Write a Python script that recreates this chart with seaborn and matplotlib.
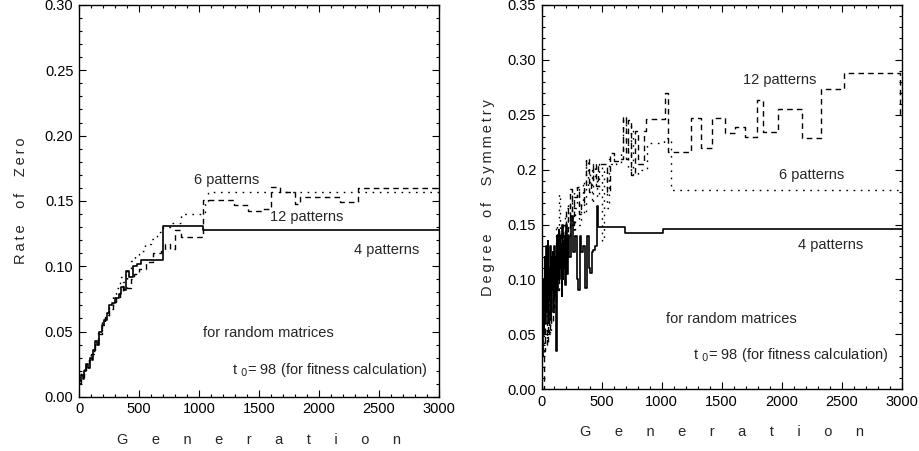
import numpy as np
import pandas as pd
import matplotlib
matplotlib.use('Agg')
import matplotlib.pyplot as plt
import seaborn as sns
from matplotlib.ticker import MultipleLocator, FixedLocator, FixedFormatter

sns.set_theme(style='ticks')
plt.rcParams['font.family'] = ['Liberation Sans', 'DejaVu Sans']

# ---- left panel: rate of zero ----
zero_4_x = [0, 15, 30, 45, 60, 75, 90, 105, 120, 135, 150, 170, 190, 210, 230, 250, 275, 300,
            330, 350, 375, 395, 420, 450, 480, 520, 700, 1030, 3000]
zero_4_y = [0.012, 0.017, 0.014, 0.020, 0.025, 0.022, 0.030, 0.028, 0.036, 0.043, 0.040, 0.050,
            0.055, 0.059, 0.064, 0.070, 0.072, 0.076, 0.079, 0.084, 0.082, 0.096, 0.092, 0.100,
            0.102, 0.105, 0.131, 0.128, 0.128]

zero_6_x = [0, 20, 40, 60, 80, 100, 130, 160, 190, 220, 250, 280, 310, 340, 370, 400, 430, 470,
            500, 550, 600, 650, 700, 760, 850, 1050, 1075, 3000]
zero_6_y = [0.013, 0.018, 0.022, 0.027, 0.030, 0.035, 0.042, 0.050, 0.057, 0.063, 0.070, 0.078,
            0.083, 0.092, 0.088, 0.098, 0.104, 0.108, 0.112, 0.117, 0.121, 0.126, 0.130, 0.133,
            0.140, 0.150, 0.157, 0.157]

zero_12_x = [0, 20, 40, 60, 80, 100, 130, 160, 190, 220, 250, 280, 310, 340, 370, 400, 430, 460,
             500, 560, 620, 680, 720, 760, 800, 850, 1030, 1230, 1290, 1410, 1535, 1605, 1675,
             1800, 1840, 2175, 2330, 3000]
zero_12_y = [0.011, 0.015, 0.020, 0.024, 0.028, 0.033, 0.040, 0.048, 0.055, 0.061, 0.067, 0.073,
             0.076, 0.080, 0.085, 0.083, 0.090, 0.094, 0.098, 0.103, 0.110, 0.112, 0.117, 0.113,
             0.128, 0.122, 0.151, 0.151, 0.147, 0.142, 0.1435, 0.161, 0.157, 0.148, 0.153,
             0.149, 0.160, 0.160]

# ---- right panel: degree of symmetry ----
sym_4_x = [0, 5, 10, 15, 20, 25, 30, 35, 40, 45, 50, 55, 60, 65, 70, 75, 80, 85, 90, 95, 100,
           105, 110, 115, 120, 125, 130, 135, 140, 145, 150, 155, 160, 165, 170, 175, 180, 185,
           190, 195, 200, 210, 220, 230, 245, 260, 275, 290, 300, 315, 330, 345, 360, 375, 390,
           400, 415, 430, 445, 460, 470, 692, 1011, 3000]
sym_4_y = [0.09, 0.03, 0.10, 0.05, 0.08, 0.12, 0.06, 0.13, 0.07, 0.10,
           0.135, 0.06, 0.11, 0.08, 0.13, 0.065, 0.12, 0.09, 0.125, 0.07,
           0.115, 0.13, 0.085, 0.12, 0.035, 0.14, 0.09, 0.13, 0.145, 0.10,
           0.14, 0.11, 0.13, 0.085, 0.15, 0.10, 0.13, 0.11, 0.14, 0.095, 0.15,
           0.105, 0.14, 0.12, 0.158, 0.125, 0.14, 0.10, 0.09, 0.14, 0.125, 0.13, 0.092, 0.14,
           0.11, 0.106, 0.125, 0.127, 0.13, 0.167, 0.148, 0.142, 0.146, 0.146]

sym_6_x = [0, 10, 20, 30, 40, 50, 60, 70, 80, 90, 100, 110, 120, 130, 140, 150, 160, 175, 190,
           205, 220, 235, 250, 265, 280, 295, 310, 325, 340, 355, 370, 385, 400, 415, 430, 445,
           460, 480, 500, 520, 540, 560, 580, 600, 620, 640, 660, 680, 700, 720, 740, 760, 800,
           880, 1020, 1080, 3000]
sym_6_y = [0.05, 0.03, 0.08, 0.045, 0.10, 0.06, 0.09, 0.05, 0.11, 0.07, 0.12, 0.08, 0.15, 0.10,
           0.178, 0.12, 0.14, 0.11, 0.16, 0.13, 0.17, 0.15, 0.18, 0.14, 0.165, 0.185, 0.15, 0.17,
           0.19, 0.16, 0.21, 0.185, 0.20, 0.17, 0.205, 0.19, 0.175, 0.205, 0.135, 0.20, 0.165,
           0.21, 0.205, 0.21, 0.205, 0.205, 0.215, 0.248, 0.225, 0.20, 0.24, 0.195, 0.20, 0.224,
           0.229, 0.181, 0.181]

sym_12_x = [0, 15, 30, 40, 50, 60, 70, 80, 90, 100, 115, 130, 145, 160, 175, 190, 205, 220, 235,
            250, 270, 290, 310, 330, 350, 370, 390, 410, 430, 450, 470, 500, 540, 570, 600, 640,
            680, 700, 720, 740, 780, 800, 850, 870, 1025, 1055, 1240, 1330, 1420, 1530, 1610,
            1690, 1790, 1840, 1970, 2170, 2330, 2520, 2990, 3000]
sym_12_y = [0.0, 0.035, 0.06, 0.04, 0.075, 0.05, 0.09, 0.06, 0.10, 0.075, 0.12, 0.09, 0.145,
            0.11, 0.15, 0.12, 0.165, 0.14, 0.182, 0.15, 0.175, 0.184, 0.16, 0.17, 0.185, 0.21,
            0.18, 0.19, 0.205, 0.185, 0.205, 0.205, 0.18, 0.215, 0.208, 0.21, 0.248, 0.21, 0.245,
            0.195, 0.235, 0.205, 0.235, 0.246, 0.27, 0.216, 0.247, 0.22, 0.247, 0.233, 0.239,
            0.23, 0.263, 0.234, 0.255, 0.229, 0.273, 0.288, 0.25, 0.25]

left_ticks = [0.00, 0.05, 0.10, 0.15, 0.20, 0.25, 0.30]
left_labels = ['0.00', '0.05', '0.10', '0.15', '0.20', '0.25', '0.30']
right_ticks = [0.00, 0.05, 0.10, 0.15, 0.20, 0.25, 0.30, 0.35]
right_labels = ['0.00', '0.05', '0.10', '0.15', '0.2', '0.25', '0.30', '0.35']

dashed = (0, (4, 3))
dotted = (0, (1.2, 4))

FS = 10.5
ts = '\u2009'

fig = plt.figure(figsize=(9.2, 4.51), dpi=100)
ax1 = fig.add_axes([0.0859, 0.12, 0.391, 0.869])
ax2 = fig.add_axes([0.589, 0.137, 0.391, 0.852])


def step(ax, xs, ys, ls, lw=1.0):
    d = pd.DataFrame({'x': xs, 'y': ys})
    sns.lineplot(data=d, x='x', y='y', ax=ax, color='black', lw=lw, linestyle=ls,
                 drawstyle='steps-post', estimator=None, sort=False)


step(ax1, zero_6_x, zero_6_y, dotted)
step(ax1, zero_12_x, zero_12_y, dashed)
step(ax1, zero_4_x, zero_4_y, '-', 1.2)

step(ax2, sym_6_x, sym_6_y, dotted)
step(ax2, sym_12_x, sym_12_y, dashed)
step(ax2, sym_4_x, sym_4_y, '-', 1.2)

for ax, ymax, ticks, labels in [(ax1, 0.30, left_ticks, left_labels),
                                (ax2, 0.35, right_ticks, right_labels)]:
    ax.set_xlim(0, 3000)
    ax.set_ylim(0, ymax)
    ax.xaxis.set_major_locator(MultipleLocator(500))
    ax.xaxis.set_minor_locator(MultipleLocator(100))
    ax.yaxis.set_major_locator(FixedLocator(ticks))
    ax.yaxis.set_major_formatter(FixedFormatter(labels))
    ax.yaxis.set_minor_locator(MultipleLocator(0.01))
    ax.tick_params(which='both', direction='in', top=True, right=True, colors='black',
                   labelsize=FS, width=0.8)
    ax.tick_params(which='major', length=5, pad=4)
    ax.tick_params(which='minor', length=2)
    for s in ax.spines.values():
        s.set_color('black')
        s.set_linewidth(1.0)
    ax.set_xlabel(('     ' + ts).join('Generation'), fontsize=FS, labelpad=12)

ax1.set_ylabel(ts.join('Rate') + '    ' + ts.join('of') + '    ' + ts.join('Zero'),
               fontsize=FS, labelpad=12)
ax2.set_ylabel(ts.join('Degree') + '    ' + ts.join('of') + '    ' + ts.join('Symmetry'),
               fontsize=FS, labelpad=9)

ax1.text(1231, 0.166, '6 patterns', fontsize=FS, ha='center', va='center')
ax1.text(1900, 0.138, '12 patterns', fontsize=FS, ha='center', va='center')
ax1.text(2564, 0.1125, '4 patterns', fontsize=FS, ha='center', va='center')
ax1.text(1578, 0.0487, 'for random matrices', fontsize=FS, ha='center', va='center')
ax1.text(1272, 0.0207, r't $_{0}$= 98 (for fitness calculation)', fontsize=FS,
         ha='left', va='center')

ax2.text(1983, 0.282, '12 patterns', fontsize=FS, ha='center', va='center')
ax2.text(2247, 0.195, '6 patterns', fontsize=FS, ha='center', va='center')
ax2.text(2408, 0.131, '4 patterns', fontsize=FS, ha='center', va='center')
ax2.text(1580, 0.0644, 'for random matrices', fontsize=FS, ha='center', va='center')
ax2.text(1261, 0.031, r't $_{0}$= 98 (for fitness calculation)', fontsize=FS,
         ha='left', va='center')

fig.savefig('out.png', dpi=100)
